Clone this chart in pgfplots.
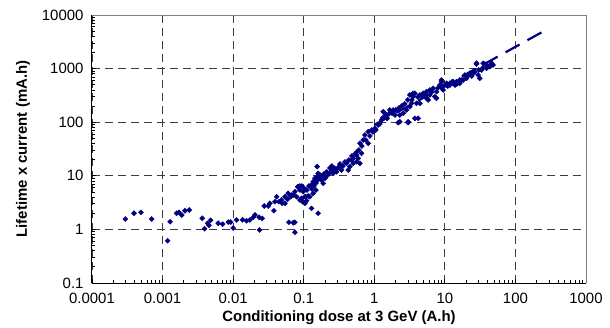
\documentclass[border=0pt]{standalone}
\usepackage{pgfplots}
\usepackage{pgfplotstable}
\pgfplotsset{compat=1.18}
\usepackage{fontspec}
\setmainfont{Liberation Sans}
\definecolor{navy}{RGB}{0,0,128}
\definecolor{gridgray}{RGB}{60,60,60}

\pgfplotstableread{
x y
0.000297 1.56
0.000394 2.0
0.000494 2.08
0.0007 1.56
0.00118 0.615
0.00128 1.39
0.00158 2.0
0.0017 2.08
0.00187 1.86
0.00208 2.23
0.00239 2.3
0.00365 1.61
0.00394 1.03
0.00435 1.30
0.00454 1.19
0.0048 1.48
0.00615 1.30
0.0071 1.25
0.00853 1.37
0.00922 1.37
0.0100 1.06
0.0112 1.50
0.0136 1.51
0.0155 1.45
0.0173 1.5
0.0193 1.68
0.0204 1.86
0.0234 1.68
0.0237 0.975
0.0258 1.6
0.0276 2.73
0.0314 2.73
0.0332 3.07
0.0378 2.23
0.0391 3.29
0.0413 4.07
0.0446 3.29
0.0496 3.07
0.0542 3.07
0.0591 3.64
0.0617 1.36
0.0659 4.07
0.071 4.38
0.075 1.36
0.075 0.883
0.082 6.26
0.0883 6.45
0.0883 3.54
0.0984 5.05
0.0933 3.80
0.104 4.07
0.116 4.20
0.110 3.43
0.129 6.73
0.136 7.76
0.155 9.62
0.136 4.71
0.149 5.43
0.129 2.47
0.160 2.0
0.071 1.33
0.0486 3.54
0.0542 4.07
0.0603 4.71
0.0674 4.38
0.075 5.05
0.0836 6.26
0.0793 4.07
0.0965 3.29
0.107 4.07
0.104 3.07
0.122 4.07
0.129 6.26
0.136 7.24
0.144 8.98
0.155 14.8
0.160 11.1
0.170 10.3
0.179 8.35
0.189 7.24
0.200 8.98
0.211 11.9
0.230 11.1
0.248 12.8
0.262 11.1
0.277 13.8
0.292 11.9
0.318 14.8
0.344 12.8
0.405 17.1
0.427 12.8
0.451 14.8
0.477 19.7
0.502 17.1
0.561 18.3
0.592 21.2
0.625 17.1
0.661 26.3
0.625 40.4
0.697 46.5
0.736 57.7
0.820 66.5
0.916 71.5
1.02 76.9
1.135 88.7
0.820 40.4
0.561 24.4
0.502 21.2
1.27 110
1.41 147
1.52 118
1.66 169
1.85 157
1.96 136
2.18 97.9
2.30 136
2.57 147
2.87 169
3.02 97.9
3.19 195
3.56 299
3.76 346
3.97 225
3.76 118
4.19 118
4.43 322
4.93 346
5.51 371
5.80 260
6.13 399
6.83 429
7.21 299
7.63 371
8.50 494
8.98 570
9.46 459
10.6 532
11.8 494
13.1 532
14.6 570
16.3 532
18.2 613
19.2 760
20.3 659
22.6 817
25.2 875
28.1 1219
29.6 760
31.3 659
33.1 942
36.9 1219
39.0 1014
43.4 1085
48.3 1168
1.34 157
1.85 169
3.19 322
3.56 346
3.37 225
3.02 102
2.30 102
4.43 225
5.51 279
6.13 322
7.63 279
8.98 613
10.0 494
11.8 532
13.9 494
28.1 1256
34.9 1256
45.9 1256
25.2 817
16.3 613
13.1 570
10.6 494
9.46 399
0.0883 5.43
0.0943 6.45
0.1007 5.92
0.111 5.43
0.1186 6.45
0.1306 5.67
0.1395 6.45
0.149 7.34
0.159 8.35
0.170 9.10
0.181 9.91
0.193 10.8
0.213 9.91
0.235 14.0
0.251 15.2
0.268 12.8
0.305 14.0
0.326 16.6
0.359 15.2
0.384 18.1
0.437 19.7
0.482 23.4
0.531 25.5
0.567 27.8
0.605 30.3
0.667 36.0
0.760 46.5
0.867 55.3
0.955 65.6
1.05 71.5
1.20 92.5
1.32 120
1.46 131
1.61 142
1.78 148
2.02 169
2.23 184
2.46 201
2.71 219
2.99 260
3.41 260
4.15 295
4.72 308
5.21 336
6.55 366
7.96 435
9.07 435
11.0 474
12.6 562
14.8 516
17.4 613
21.2 728
24.1 728
26.6 864
30.3 942
34.5 1026
40.6 1119
46.3 1219
}\lifedata

\begin{document}
\begin{tikzpicture}
\path[use as bounding box] (-92bp,-45bp) rectangle (518bp,283bp);
\begin{axis}[
  scale only axis, width=494bp, height=268bp,
  xmode=log, ymode=log,
  xmin=0.0001, xmax=1000, ymin=0.1, ymax=10000,
  axis lines*=left,
  axis line style={line width=1bp, black},
  xtick={0.0001,0.001,0.01,0.1,1,10,100,1000},
  xticklabels={0.0001,0.001,0.01,0.1,1,10,100,1000},
  ytick={0.1,1,10,100,1000,10000},
  yticklabels={0.1,1,10,100,1000,10000},
  tick align=inside, major tick length=4bp, minor tick length=3bp,
  tick style={black, line width=0.8bp},
  grid=major,
  major grid style={gridgray, dash pattern=on 8bp off 5bp, line width=0.8bp},
  tick label style={font=\fontsize{15}{18}\selectfont},
  xticklabel style={yshift=-7bp},
  yticklabel style={xshift=-5bp},
  xlabel={Conditioning dose at 3 GeV (A.h)},
  ylabel={Lifetime x current (mA.h)},
  xlabel style={at={(axis description cs:0.5,-0.1306)}, anchor=center, font=\fontsize{15}{18}\selectfont\bfseries},
  ylabel style={at={(axis description cs:-0.1397,0.5)}, anchor=center, font=\fontsize{15}{18}\selectfont\bfseries},
  clip=false,
]
\draw[gray, line width=0.8bp] (rel axis cs:0,1) -- (rel axis cs:1,1) -- (rel axis cs:1,0);
\addplot[only marks, mark=square*, mark size=1.8bp, mark options={rotate=45}, color=navy] table[x=x, y=y] {\lifedata};
\addplot[navy, line width=2.2bp, dash pattern=on 16bp off 9bp] coordinates {(1,89) (270,5250)};
\end{axis}
\end{tikzpicture}
\end{document}
